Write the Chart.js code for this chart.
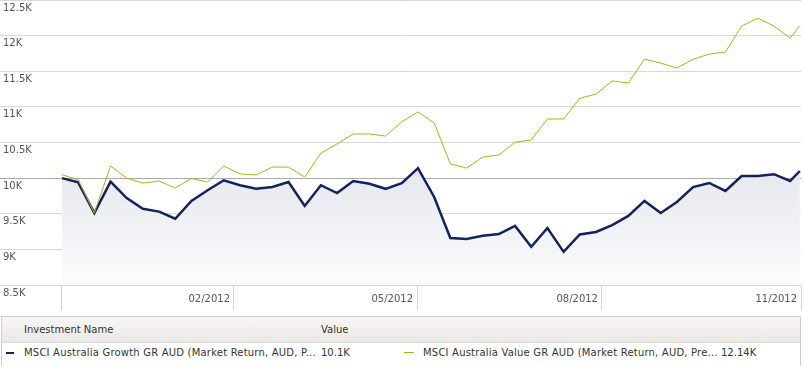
<!DOCTYPE html>
<html>
<head>
<meta charset="utf-8">
<script src="https://cdn.jsdelivr.net/npm/chart.js@4/dist/chart.umd.min.js"></script>
<style>
  body { margin: 0; background: #fff; font-family: 'DejaVu Sans', sans-serif; font-size: 10px; color: #333; }
  #wrap { position: relative; width: 804px; height: 366px; overflow: hidden; }
  #chartBox { position: absolute; left: 0; top: 0; width: 804px; height: 312px; }
  #table { position: absolute; left: 1px; top: 316px; width: 798px; height: 60px; border: 1px solid #cfcfcf; }
  #head { position: absolute; left: 0; top: 0; width: 100%; height: 25px; border-bottom: 1px solid #dcdcdc;
          background: linear-gradient(#f8f7f5, #ebe8e5); }
  .cell { position: absolute; white-space: nowrap; line-height: 12px; }
  .name { letter-spacing: 0.2px; }
  .dash { position: absolute; }
</style>
</head>
<body>
<div id="wrap">
  <div id="chartBox"><canvas id="growthChart"></canvas></div>
  <div id="table">
    <div id="head">
      <span class="cell" style="left:22px; top:7px;">Investment Name</span>
      <span class="cell" style="left:319px; top:7px;">Value</span>
    </div>
    <span class="dash" id="dash0" style="left:4px; top:35px; width:8px; height:2px;"></span>
    <span class="cell name" id="name0" style="left:22px; top:30px;"></span>
    <span class="cell" id="val0" style="left:319px; top:30px;"></span>
    <span class="dash" id="dash1" style="left:402px; top:35px; width:10px; height:1px;"></span>
    <span class="cell name" id="name1" style="left:421px; top:30px;"></span>
    <span class="cell" id="val1" style="left:719px; top:30px;"></span>
  </div>
</div>
<script>
// weekly growth of 10K, Nov 2011 - Nov 2012
const weeks = [0, 1, 2, 3, 4, 5, 6, 7, 8, 9, 10, 11, 12, 13, 14, 15, 16, 17, 18, 19, 20, 21, 22, 23,
  24, 25, 26, 27, 28, 29, 30, 31, 32, 33, 34, 35, 36, 37, 38, 39, 40, 41, 42, 43, 44, 45, 45.6];

const growthValues = [10000, 9940, 9510, 9950, 9720, 9570, 9530, 9430, 9680, 9830, 9970, 9900,
  9850, 9875, 9945, 9610, 9900, 9790, 9960, 9920, 9850, 9930, 10140, 9735,
  9160, 9145, 9190, 9215, 9330, 9035, 9300, 8965, 9210, 9245, 9340, 9470,
  9680, 9510, 9665, 9875, 9932, 9820, 10030, 10030, 10055, 9960, 10100];

const valueValues = [10050, 9975, 9510, 10170, 10000, 9930, 9960, 9860, 9995, 9945, 10170, 10060,
  10045, 10155, 10155, 10015, 10350, 10480, 10620, 10620, 10590, 10790, 10930, 10775,
  10200, 10140, 10295, 10325, 10505, 10535, 10830, 10830, 11120, 11180, 11365, 11335,
  11670, 11615, 11545, 11670, 11740, 11770, 12135, 12245, 12135, 11965, 12140];

const seriesNames = [
  'MSCI Australia Growth GR AUD (Market Return, AUD, P...',
  'MSCI Australia Value GR AUD (Market Return, AUD, Pre...'
];
const seriesLast = ['10.1K', '12.14K'];
const seriesColors = ['#14225e', '#a6b814'];

const xTickWeeks = [0, 10.63, 21.94, 33.37, 45.67];
const xTickLabels = ['', '02/2012', '05/2012', '08/2012', '11/2012'];
const yMin = 8500, yMax = 12500, yStep = 500, baseValue = 10000;

const fmtK = v => (v / 1000) + 'K';

// table under the chart
seriesNames.forEach((n, i) => {
  document.getElementById('name' + i).textContent = n;
  document.getElementById('val' + i).textContent = seriesLast[i];
  document.getElementById('dash' + i).style.background = seriesColors[i];
});

Chart.defaults.font.family = "'DejaVu Sans', sans-serif";
Chart.defaults.font.size = 10;
Chart.defaults.color = '#555';

const toPoints = vals => vals.map((v, i) => ({ x: weeks[i], y: v }));

const ctx = document.getElementById('growthChart').getContext('2d');
new Chart(ctx, {
  type: 'line',
  data: {
    datasets: [
      {
        label: seriesNames[0],
        data: toPoints(growthValues),
        borderColor: seriesColors[0],
        borderWidth: 2.5,
        pointRadius: 0,
        tension: 0,
        order: 1,
        fill: 'start',
        backgroundColor: (c) => {
          const { chart } = c;
          const area = chart.chartArea;
          if (!area) return 'rgba(230,232,239,1)';
          const top = chart.scales.y.getPixelForValue(10200);
          const g = chart.ctx.createLinearGradient(0, top, 0, area.bottom);
          g.addColorStop(0, 'rgba(229,231,238,1)');
          g.addColorStop(1, 'rgba(252,252,253,1)');
          return g;
        },
      },
      {
        label: seriesNames[1],
        data: toPoints(valueValues),
        borderColor: seriesColors[1],
        borderWidth: 1,
        pointRadius: 0,
        tension: 0,
        order: 0,
        fill: false,
      },
    ],
  },
  options: {
    responsive: true,
    maintainAspectRatio: false,
    animation: false,
    layout: { padding: { left: 0, right: 3, top: 0, bottom: 0 } },
    plugins: { legend: { display: false }, tooltip: { enabled: false } },
    scales: {
      x: {
        type: 'linear',
        min: -3.83,
        max: 45.67,
        afterBuildTicks: (scale) => { scale.ticks = xTickWeeks.map(v => ({ value: v })); },
        afterFit: (scale) => { scale.height = 27; scale.paddingLeft = 0; scale.paddingRight = 0; },
        grid: { drawOnChartArea: false, drawTicks: true, tickLength: 25, color: '#d2d2d2' },
        border: { display: false },
        ticks: {
          autoSkip: false,
          maxRotation: 0,
          align: 'end',
          padding: -17,
          labelOffset: -4,
          color: '#555',
          callback: (v) => xTickLabels[xTickWeeks.indexOf(v)] ?? '',
        },
      },
      y: {
        min: yMin,
        max: yMax,
        afterFit: (scale) => { scale.width = 0; scale.paddingTop = 0; scale.paddingBottom = 0; },
        grid: {
          drawTicks: false,
          color: (c) => (c.tick && c.tick.value === baseValue ? '#ababab' : '#d9d9d9'),
        },
        border: { display: false },
        ticks: {
          stepSize: yStep,
          mirror: true,
          padding: 3,
          labelOffset: 8,
          color: '#555',
          callback: (v) => fmtK(v),
        },
      },
    },
  },
});
</script>
</body>
</html>
